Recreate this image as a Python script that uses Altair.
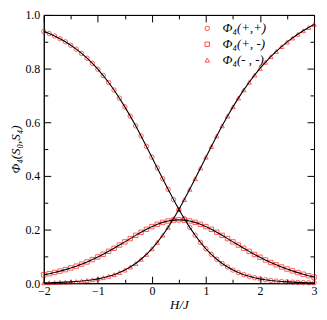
import altair as alt
import pandas as pd

x_vals = [-2.0, -1.9, -1.8, -1.7, -1.6, -1.5, -1.4, -1.3, -1.2, -1.1,
          -1.0, -0.9, -0.8, -0.7, -0.6, -0.5, -0.4, -0.3, -0.2, -0.1,
          0.0, 0.1, 0.2, 0.3, 0.4, 0.5, 0.6, 0.7, 0.8, 0.9,
          1.0, 1.1, 1.2, 1.3, 1.4, 1.5, 1.6, 1.7, 1.8, 1.9,
          2.0, 2.1, 2.2, 2.3, 2.4, 2.5, 2.6, 2.7, 2.8, 2.9, 3.0]

phi_pp = [0.9387, 0.9306, 0.9215, 0.9113, 0.8998, 0.8869, 0.8725, 0.8565, 0.8388, 0.8192,
          0.7976, 0.7739, 0.7480, 0.7200, 0.6897, 0.6573, 0.6229, 0.5867, 0.5489, 0.5098,
          0.4699, 0.4297, 0.3895, 0.3500, 0.3117, 0.2750, 0.2404, 0.2083, 0.1788, 0.1521,
          0.1283, 0.1074, 0.0892, 0.0735, 0.0602, 0.0490, 0.0397, 0.0319, 0.0256, 0.0204,
          0.0162, 0.0129, 0.0102, 0.0080, 0.0063, 0.0049, 0.0039, 0.0030, 0.0024, 0.0018, 0.0014]

phi_pm = [0.0314, 0.0355, 0.0400, 0.0450, 0.0506, 0.0568, 0.0636, 0.0711, 0.0793, 0.0882,
          0.0978, 0.1079, 0.1189, 0.1302, 0.1421, 0.1541, 0.1663, 0.1784, 0.1901, 0.2010,
          0.2109, 0.2196, 0.2267, 0.2319, 0.2351, 0.2363, 0.2351, 0.2319, 0.2267, 0.2196,
          0.2109, 0.2010, 0.1901, 0.1784, 0.1663, 0.1541, 0.1421, 0.1300, 0.1186, 0.1073,
          0.0968, 0.0868, 0.0774, 0.0686, 0.0605, 0.0529, 0.0459, 0.0395, 0.0335, 0.0280, 0.0227]

phi_mm = [0.0014, 0.0018, 0.0024, 0.0030, 0.0039, 0.0049, 0.0063, 0.0080, 0.0102, 0.0129,
          0.0162, 0.0204, 0.0256, 0.0319, 0.0397, 0.0490, 0.0602, 0.0735, 0.0892, 0.1074,
          0.1283, 0.1521, 0.1788, 0.2083, 0.2404, 0.2750, 0.3117, 0.3500, 0.3895, 0.4297,
          0.4699, 0.5098, 0.5489, 0.5867, 0.6229, 0.6573, 0.6898, 0.7205, 0.7490, 0.7757,
          0.8005, 0.8234, 0.8445, 0.8639, 0.8819, 0.8985, 0.9138, 0.9279, 0.9410, 0.9532, 0.9647]

series_labels = ["Φ₄(+,+)", "Φ₄(+, -)", "Φ₄(- , -)"]
marker_shapes = ["circle", "square", "triangle-up"]

x_major = [-2, -1, 0, 1, 2, 3]
x_minor = [-1.5, -0.5, 0.5, 1.5, 2.5]
y_major = [0.0, 0.2, 0.4, 0.6, 0.8, 1.0]
y_minor = [0.1, 0.3, 0.5, 0.7, 0.9]

rows = []
for lab, vals in zip(series_labels, [phi_pp, phi_pm, phi_mm]):
    for xv, yv in zip(x_vals, vals):
        rows.append({"x": xv, "y": yv, "series": lab})
df = pd.DataFrame(rows)

FONT = "Liberation Serif"
xsc = alt.Scale(domain=[-2, 3], nice=False, zero=False)
ysc = alt.Scale(domain=[0, 1], nice=False, zero=False)


def axis(orient, values, size, labels=False, title=None, fmt=None, pad=0, tpad=0):
    kw = dict(orient=orient, values=values, tickSize={"expr": str(-size)},
              tickColor="black", tickWidth=1, domain=True, domainColor="black",
              domainWidth=1, grid=False, labels=labels, title=title,
              minExtent=0)
    if labels:
        kw.update(labelFont=FONT, labelFontSize=12, labelColor="black",
                  labelPadding=pad, format=fmt, labelFlush=False, labelOverlap=False)
    if title is not None:
        kw.update(titleFont=FONT, titleFontSize=13, titleFontStyle="italic",
                  titleFontWeight="normal", titleColor="black", titlePadding=tpad)
    return alt.Axis(**kw)


def tick_layer(xax, yax):
    return alt.Chart(df).mark_point(opacity=0).encode(
        x=alt.X("x:Q", scale=xsc, axis=xax),
        y=alt.Y("y:Q", scale=ysc, axis=yax),
    )


main_axes = tick_layer(
    axis("bottom", x_major, 7, labels=True, title="H/J", fmt="d", pad=9, tpad=2),
    axis("left", y_major, 7, labels=True, title="Φ₄(S₀,S₄)", fmt=".1f", pad=11, tpad=2),
)
minor_axes = tick_layer(axis("bottom", x_minor, 4), axis("left", y_minor, 4))
top_right_major = tick_layer(axis("top", x_major, 7), axis("right", y_major, 7))
top_right_minor = tick_layer(axis("top", x_minor, 4), axis("right", y_minor, 4))

points = alt.Chart(df).mark_point(filled=False, color="red", size=20, strokeWidth=0.9).encode(
    x=alt.X("x:Q", scale=xsc, axis=None),
    y=alt.Y("y:Q", scale=ysc, axis=None),
    shape=alt.Shape(
        "series:N",
        scale=alt.Scale(domain=series_labels, range=marker_shapes),
        legend=alt.Legend(
            title=None, orient="none", legendX=158, legendY=7, padding=0,
            labelFont=FONT, labelFontSize=13, labelFontStyle="italic", labelColor="black",
            symbolStrokeColor="red", symbolFillColor="transparent", symbolSize=20,
            symbolStrokeWidth=1, labelOffset=9, rowPadding=2,
        ),
    ),
)

lines = alt.Chart(df).mark_line(color="black", strokeWidth=1.1).encode(
    x=alt.X("x:Q", scale=xsc, axis=None),
    y=alt.Y("y:Q", scale=ysc, axis=None),
    detail="series:N",
)

chart = (
    alt.layer(main_axes, minor_axes, top_right_major, top_right_minor, points, lines)
    .resolve_axis(x="independent", y="independent")
    .properties(width=272, height=270,
                padding={"left": 2, "top": 0, "right": 0, "bottom": 0},
                background="white")
    .configure_view(stroke=None)
)

chart.save("out.html", embed_options={"renderer": "svg", "actions": False})
